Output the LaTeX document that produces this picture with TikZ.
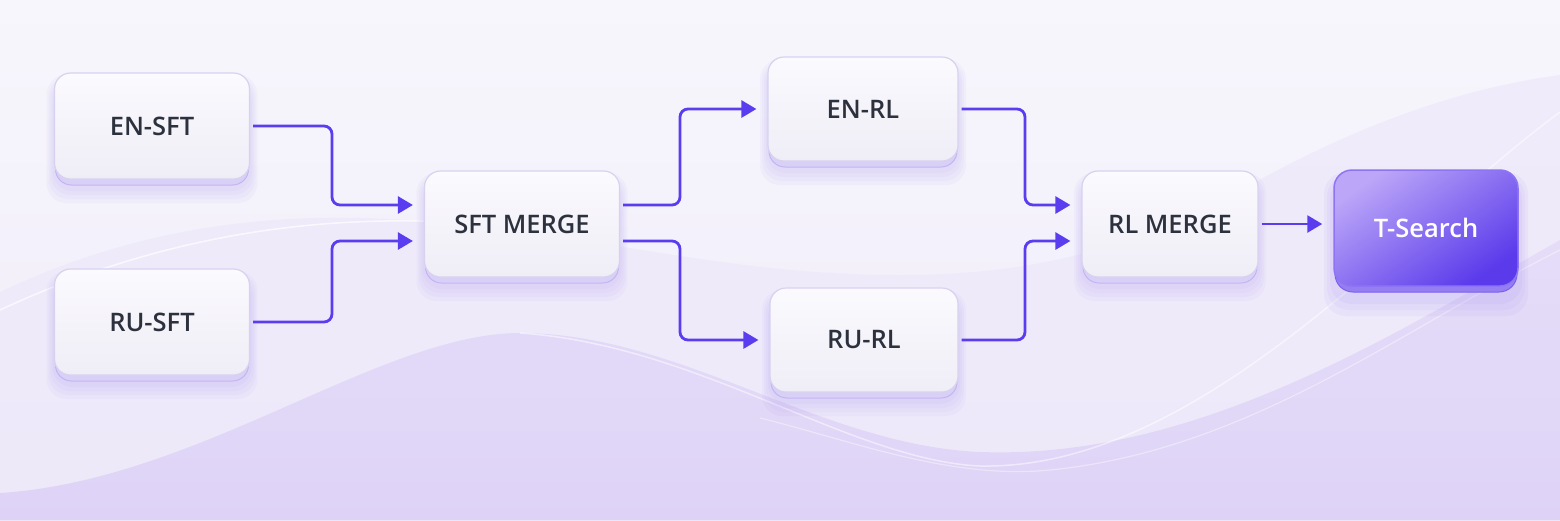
\documentclass[tikz,border=0pt]{standalone}
\usepackage{fontspec}
\IfFontExistsTF{Open Sans SemiBold}{\setmainfont{Open Sans SemiBold}}{%
  \IfFontExistsTF{Open Sans Semibold}{\setmainfont{Open Sans Semibold}}{%
    \IfFontExistsTF{Noto Sans Medium}{\setmainfont{Noto Sans Medium}}{\setmainfont{Open Sans}}}}
\usetikzlibrary{arrows.meta,calc}
\definecolor{bgtop}{HTML}{F7F6FC}
\definecolor{bgbot}{HTML}{EFEBF9}
\definecolor{wave1}{HTML}{EEE9FA}
\definecolor{wave2}{HTML}{E4DBF8}
\definecolor{wave3}{HTML}{DCD0F7}
\definecolor{flowcol}{HTML}{5B3DF0}
\definecolor{txt}{HTML}{2C313D}
\definecolor{boxtop}{HTML}{FBFAFE}
\definecolor{boxbot}{HTML}{EFEDF6}
\definecolor{boxline}{HTML}{D8D2EF}
\definecolor{lipfill}{HTML}{D9D0F7}
\definecolor{lipline}{HTML}{C3B5F3}
\definecolor{glowcol}{HTML}{9F88F3}
\definecolor{tstop}{HTML}{BBA6F8}
\definecolor{tsbot}{HTML}{5A3AEB}
\definecolor{tsline}{HTML}{8E74F3}
\definecolor{tslip}{HTML}{7B5EEF}
\tikzset{
  x=1pt, y=-1pt,
  box/.style={rounded corners=16pt, draw=boxline, line width=1.2pt,
    top color=boxtop, bottom color=boxbot, text=txt,
    font=\fontsize{25.5}{30}\selectfont, inner sep=0pt},
  tsbox/.style={rounded corners=18pt, draw=tsline, line width=1.5pt,
    shading=axis, top color=tstop, bottom color=tsbot, shading angle=35,
    text=white, font=\fontsize{25.5}{30}\selectfont, inner sep=0pt},
  flow/.style={draw=flowcol, line width=2.8pt, rounded corners=8pt,
    -{Triangle[length=15pt,width=17pt]}, shorten <=3pt, shorten >=11pt},
}
% name, x, y, w, h, text
\newcommand\mybox[6]{%
  \foreach \g in {16,12,8,4}{%
    \fill[glowcol, opacity=0.055, rounded corners=20pt]
      ({#2-#4/2-\g/2},{#3-#5/2+10-\g/2}) rectangle ({#2+#4/2+\g/2},{#3+#5/2+8+\g});}
  \draw[lipline, fill=lipfill, line width=1pt, rounded corners=16pt]
    ({#2-#4/2+1},{#3-#5/2+6}) rectangle ({#2+#4/2-1},{#3+#5/2+6});
  \node[box, minimum width=#4pt, minimum height=#5pt] (#1) at (#2,#3) {#6};
}
\begin{document}
\begin{tikzpicture}
\useasboundingbox (0,0) rectangle (1560,520);
% background
\shade[top color=bgtop, bottom color=bgbot] (0,0) rectangle (1560,520);
\fill[wave1, opacity=0.8] (0,292) .. controls (120,235) and (240,215) .. (360,218)
  .. controls (560,222) and (700,275) .. (900,275)
  .. controls (1050,275) and (1150,240) .. (1250,185)
  .. controls (1350,130) and (1450,90) .. (1560,75) -- (1560,520) -- (0,520) -- cycle;
\shade[top color=wave2, bottom color=wave3, opacity=0.85]
  (0,493) .. controls (200,480) and (380,333) .. (520,333)
  .. controls (680,333) and (820,445) .. (980,452)
  .. controls (1200,460) and (1400,330) .. (1560,240) -- (1560,520) -- (0,520) -- cycle;
\draw[white, opacity=0.7, line width=1.5pt] (0,310) .. controls (150,240) and (300,215) .. (450,222);
\draw[white, opacity=0.5, line width=1.5pt] (520,333) .. controls (700,345) and (850,460) .. (980,466)
  .. controls (1200,470) and (1400,230) .. (1560,112);
\draw[white, opacity=0.4, line width=1.2pt] (760,418) .. controls (850,440) and (950,480) .. (1050,470)
  .. controls (1250,450) and (1400,330) .. (1560,250);
% boxes
\mybox{ensft}{152}{126}{195}{106}{EN-SFT}
\mybox{rusft}{152}{322}{195}{106}{RU-SFT}
\mybox{sftm}{522}{224}{195}{106}{SFT MERGE}
\mybox{enrl}{863}{109}{190}{104}{EN-RL}
\mybox{rurl}{864}{340}{188}{104}{RU-RL}
\mybox{rlm}{1170}{224}{176}{106}{RL MERGE}
% T-Search
\foreach \g in {20,14,8}{%
  \fill[glowcol, opacity=0.08, rounded corners=22pt]
    ({1426-92-\g/2},{228-58+12-\g/2}) rectangle ({1426+92+\g/2},{228+58+10+\g});}
\draw[tslip, fill=tslip!80, line width=1pt, rounded corners=18pt]
  (1335,178) rectangle (1517,292);
\node[tsbox, minimum width=184pt, minimum height=116pt] (ts) at (1426,228) {T-Search};
% connectors
\coordinate (c1) at (332,205);
\coordinate (c2) at (332,241);
\coordinate (c3) at (680,205);
\coordinate (c4) at (680,241);
\coordinate (c5) at (1025,205);
\coordinate (c6) at (1025,241);
\draw[flow] (ensft.east) -| (c1) -- (c1 -| sftm.west);
\draw[flow] (rusft.east) -| (c2) -- (c2 -| sftm.west);
\draw[flow] (c3 -| sftm.east) -- (c3) |- (enrl.west);
\draw[flow] (c4 -| sftm.east) -- (c4) |- (rurl.west);
\draw[flow] (enrl.east) -| (c5) -- (c5 -| rlm.west);
\draw[flow] (rurl.east) -| (c6) -- (c6 -| rlm.west);
\draw[flow] (rlm.east) -- (rlm.east -| ts.west);
\end{tikzpicture}
\end{document}
